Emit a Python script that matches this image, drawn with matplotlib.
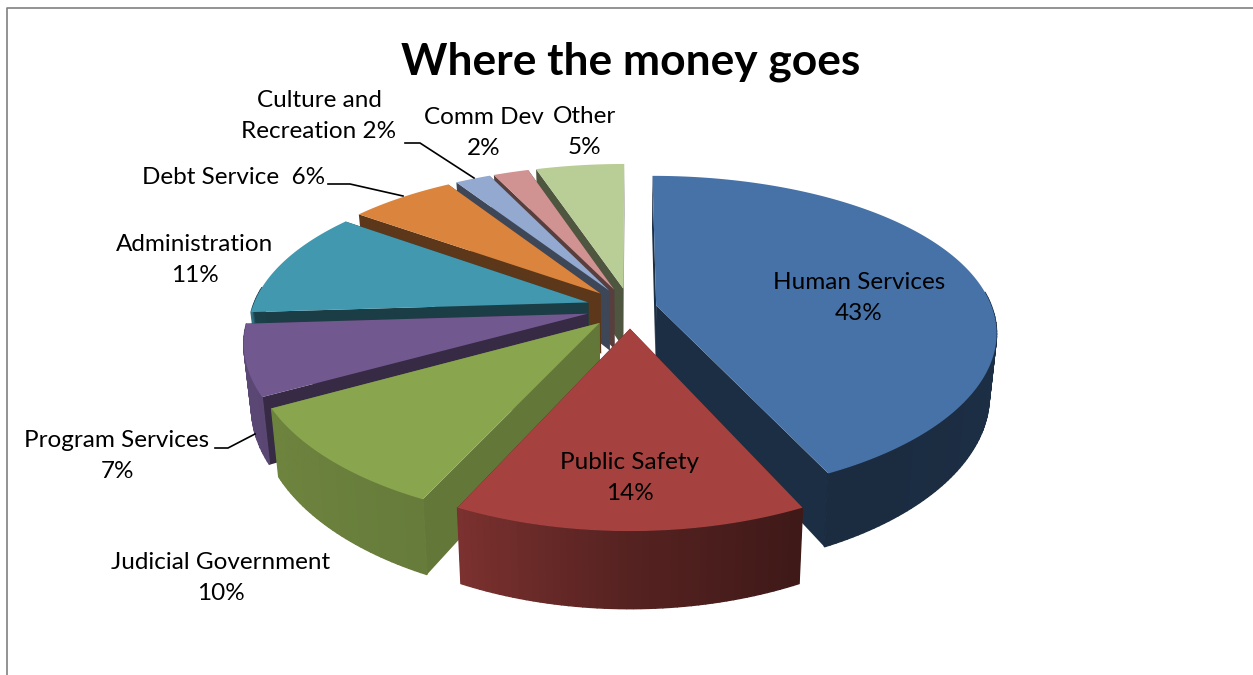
import numpy as np
from matplotlib import pyplot as plt
from matplotlib.colors import to_rgb
from matplotlib.patches import Polygon

plt.rcParams['font.family'] = ['Lato', 'DejaVu Sans']

categories = ['Human Services', 'Public Safety', 'Judicial Government', 'Program Services',
              'Administration', 'Debt Service', 'Culture and Recreation', 'Comm Dev', 'Other']
shares = [43, 14, 10, 7, 11, 6, 2, 2, 5]
colors = ['#4672A8', '#A5423F', '#89A54E', '#71588F', '#4198AF', '#DB843D', '#93A9CF', '#D19392', '#B9CD96']
explode = [0.08, 0.13, 0.13, 0.13, 0.13, 0.13, 0.13, 0.13, 0.13]
cut_shade = [0.4, 0.42, 0.72, 0.48, 0.4, 0.42, 0.42, 0.42, 0.42]

# label text, x, y (pixels)
labels = [
    ('Human Services\n43%', 859, 298),
    ('Public Safety\n14%', 630, 478),
    ('Judicial Government\n10%', 221, 578),
    ('Program Services\n7%', 117, 456),
    ('Administration\n11%', 195, 260),
    ('Debt Service  6%', 234, 178),
    ('Culture and\nRecreation 2%', 319, 116),
    ('Comm Dev\n2%', 484, 133),
    ('Other\n5%', 584, 132),
]
leaders = [
    ([215, 228, 255], [448, 448, 434]),
    ([328, 350, 403], [184, 184, 196]),
    ([405, 420, 474], [143, 143, 178]),
]

CX, CY = 630, 308
RX, RY = 336, 155
PERSP_X = 0.165
PERSP_Y = 0.19
DEPTH = 61
BOTTOM_SHRINK = 0.98

# brightness of the outer wall, by angle clockwise from 12 o'clock
shade_angle = [0, 90, 155, 180, 205, 241, 266, 268, 360]
shade_value = [0.42, 0.42, 0.38, 0.52, 0.75, 0.8, 0.82, 0.42, 0.42]


def project(x, y, bottom=False):
    sx = 1 / (1 + PERSP_X * y)
    sy = 1 / (1 + PERSP_Y * y)
    px = CX + RX * x * sx
    py = CY - RY * y * sy
    if bottom:
        px = CX + (px - CX) * BOTTOM_SHRINK
        py = py + DEPTH * sy
    return np.column_stack([px, py])


def darken(color, f):
    return tuple(c * f for c in to_rgb(color))


fig = plt.figure(figsize=(12.53, 6.75), dpi=100)
ax = fig.add_axes([0, 0, 1, 1])
ax.set_xlim(0, 1253)
ax.set_ylim(675, 0)
ax.axis('off')

ax.plot([7, 7, 1253], [675, 8, 8], color='#808080', lw=1.2)

edges = np.radians(np.cumsum([0] + shares) * 3.6)
order = sorted(range(len(shares)), key=lambda i: -np.cos((edges[i] + edges[i + 1]) / 2))

for z, i in enumerate(order):
    a0, a1 = edges[i], edges[i + 1]
    mid = (a0 + a1) / 2
    ox, oy = explode[i] * np.sin(mid), explode[i] * np.cos(mid)
    t = np.linspace(a0, a1, max(int(np.degrees(a1 - a0)), 8))
    ax_x = np.r_[ox, ox + np.sin(t)]
    ax_y = np.r_[oy, oy + np.cos(t)]
    top = project(ax_x, ax_y)
    bot = project(ax_x, ax_y, bottom=True)

    # the two cut faces
    for j in (1, len(t)):
        face = np.vstack([top[0], top[j], bot[j], bot[0]])
        ax.add_patch(Polygon(face, closed=True, fc=darken(colors[i], cut_shade[i]),
                             ec='none', zorder=z * 3 + 1))

    # outer wall as thin strips, only the part facing the viewer
    strips = sorted(range(1, len(t)), key=lambda j: -np.cos(t[j - 1]))
    for j in strips:
        if np.cos(t[j - 1]) > 0.1:
            continue
        quad = np.vstack([top[j], top[j + 1], bot[j + 1], bot[j]])
        f = np.interp(np.degrees(t[j - 1]), shade_angle, shade_value)
        col = darken(colors[i], f)
        ax.add_patch(Polygon(quad, closed=True, fc=col, ec=col, lw=1, zorder=z * 3 + 2))

    ax.add_patch(Polygon(top, closed=True, fc=colors[i], ec='none', zorder=z * 3 + 3))

for xs, ys in leaders:
    ax.plot(xs, ys, color='black', lw=1.2, zorder=100)

for text, x, y in labels:
    ax.text(x, y, text, fontsize=17.5, ha='center', va='center', color='black',
            linespacing=1.62, zorder=101)

ax.text(631, 62, 'Where the money goes', fontsize=31.9, fontweight='bold',
        ha='center', va='center', color='black', zorder=101)

fig.savefig('out.png', dpi=100)
